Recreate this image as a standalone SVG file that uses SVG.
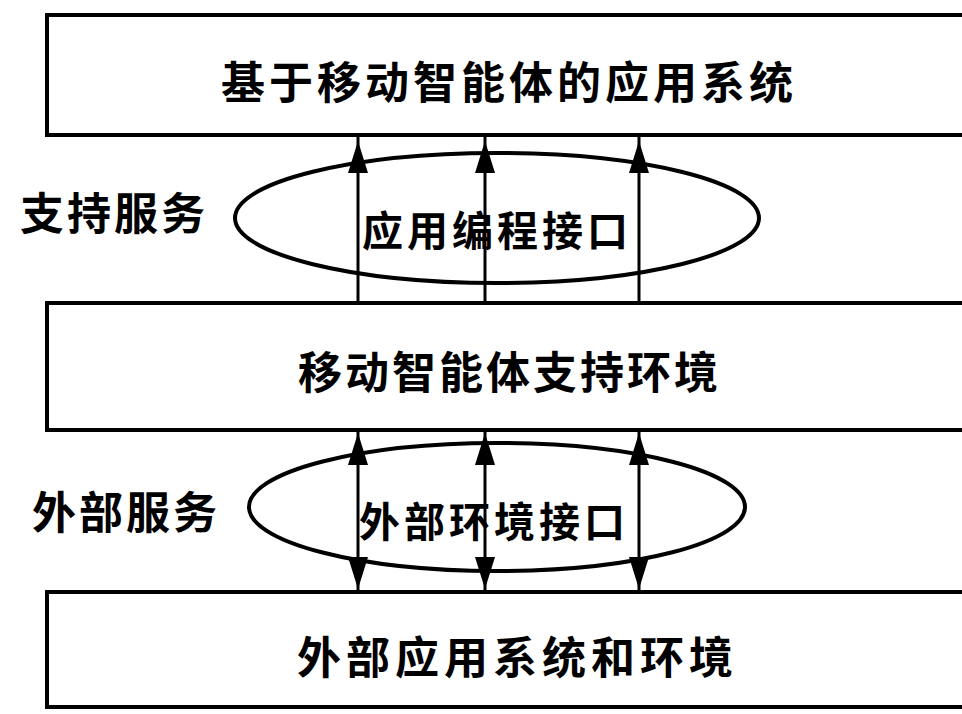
<svg xmlns="http://www.w3.org/2000/svg" xmlns:xlink="http://www.w3.org/1999/xlink" width="962" height="714" viewBox="0 0 962 714">
<style>
  .box { fill: #fff; stroke: #000; stroke-width: 4; }
  .ell { fill: none; stroke: #000; stroke-width: 4; }
  .ln { stroke: #000; stroke-width: 3; fill: none; }
  .t { font-family: "Noto Sans CJK SC", "Noto Sans CJK TC", sans-serif; font-weight: 700; font-size: 44px; fill: #000; dominant-baseline: central; }
  .e { font-size: 41px; font-weight: 700; }
</style>
<defs>
  <path id="ah" d="M0 0 L-10 32 L10 32 Z" fill="#000"/>
</defs>
<rect width="962" height="714" fill="#fff"/>
<g id="app-system">
  <rect class="box" x="47" y="15" width="940" height="120"/>
  <text class="t" x="221" y="80" letter-spacing="4">基于移动智能体的应用系统</text>
</g>
<g id="support-env">
  <rect class="box" x="47" y="303" width="940" height="127"/>
  <text class="t" x="298" y="370" letter-spacing="3">移动智能体支持环境</text>
</g>
<g id="external-env">
  <rect class="box" x="47" y="592" width="940" height="115"/>
  <text class="t" x="297" y="655" letter-spacing="5">外部应用系统和环境</text>
</g>
<g id="support-service">
  <text class="t" x="20" y="211" letter-spacing="3">支持服务</text>
</g>
<g id="api">
  <ellipse class="ell" cx="497" cy="218" rx="262" ry="65"/>
  <text class="t e" x="362" y="228" letter-spacing="4">应用编程接口</text>
</g>
<g id="external-service">
  <text class="t" x="32" y="510" letter-spacing="3">外部服务</text>
</g>
<g id="ext-interface">
  <ellipse class="ell" cx="497" cy="507" rx="248" ry="64"/>
  <text class="t e" x="359" y="519" letter-spacing="4">外部环境接口</text>
</g>
<g id="connectors">
  <line class="ln" x1="358" y1="303" x2="358" y2="135"/>
  <line class="ln" x1="485" y1="303" x2="485" y2="135"/>
  <line class="ln" x1="639" y1="303" x2="639" y2="135"/>
  <use xlink:href="#ah" transform="translate(358,141)"/>
  <use xlink:href="#ah" transform="translate(485,141)"/>
  <use xlink:href="#ah" transform="translate(639,141)"/>
  <line class="ln" x1="358" y1="430" x2="358" y2="592"/>
  <line class="ln" x1="485" y1="430" x2="485" y2="592"/>
  <line class="ln" x1="639" y1="430" x2="639" y2="592"/>
  <use xlink:href="#ah" transform="translate(358,433)"/>
  <use xlink:href="#ah" transform="translate(485,433)"/>
  <use xlink:href="#ah" transform="translate(639,433)"/>
  <use xlink:href="#ah" transform="translate(358,589) rotate(180)"/>
  <use xlink:href="#ah" transform="translate(485,589) rotate(180)"/>
  <use xlink:href="#ah" transform="translate(639,589) rotate(180)"/>
</g>
</svg>
